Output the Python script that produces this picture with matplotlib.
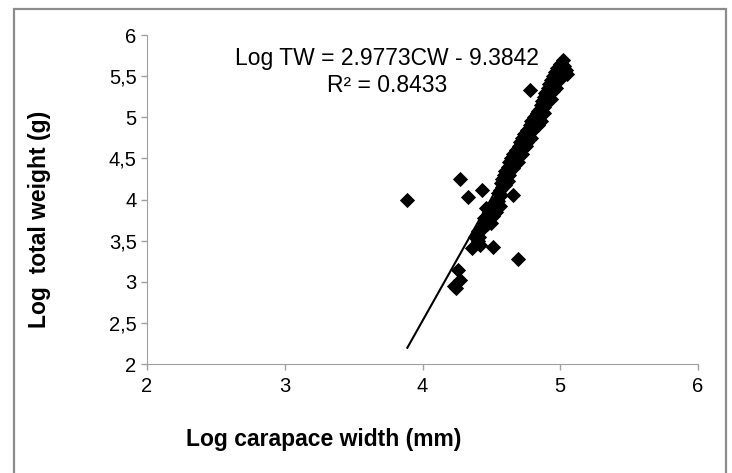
import matplotlib.pyplot as plt
from matplotlib.patches import Rectangle
from matplotlib.ticker import FuncFormatter

plt.rcParams['font.family'] = ['Liberation Sans', 'DejaVu Sans']

# log carapace width (x) and log total weight (y)
cw = [3.89, 4.27, 4.33, 4.43, 4.66, 4.51, 4.69, 4.36, 4.26, 4.24, 4.27, 4.23,
      4.38, 4.40, 4.42, 4.45, 4.48, 4.49, 4.50, 4.52, 4.54, 4.55, 4.56, 4.57,
      4.58, 4.59, 4.60, 4.61, 4.62, 4.63, 4.64, 4.65, 4.66, 4.67, 4.68, 4.69,
      4.70, 4.71, 4.72, 4.73, 4.74, 4.75, 4.76, 4.77, 4.78, 4.79, 4.80, 4.81,
      4.82, 4.83, 4.84, 4.85, 4.86, 4.87, 4.88, 4.89, 4.90, 4.91, 4.92, 4.93,
      4.94, 4.95, 4.96, 4.97, 4.98, 4.99, 5.00, 5.02, 5.03, 5.04, 4.78, 4.72,
      4.62, 4.58, 4.53, 4.47, 4.41, 4.90, 4.95, 4.99, 4.86, 4.82, 4.76,
      4.40, 4.44, 4.46, 4.51, 4.55, 4.57, 4.60, 4.63, 4.66, 4.69, 4.72, 4.75,
      4.79, 4.84, 4.88, 4.93, 4.97, 5.01, 5.05, 4.45, 4.50, 4.53,
      4.84, 4.92, 4.96, 5.00, 4.70, 4.74, 4.80, 4.88, 4.62, 4.56]
tw = [3.99, 4.25, 4.03, 4.11, 4.05, 3.42, 3.28, 3.41, 3.14, 2.92, 3.02, 2.95,
      3.55, 3.62, 3.45, 3.78, 3.85, 3.77, 3.90, 3.95, 4.00, 4.08, 4.12, 4.20,
      4.25, 4.30, 4.35, 4.28, 4.40, 4.45, 4.50, 4.48, 4.55, 4.52, 4.60, 4.58,
      4.65, 4.70, 4.75, 4.72, 4.80, 4.78, 4.85, 4.82, 4.90, 4.95, 4.92, 5.00,
      4.98, 5.05, 5.02, 5.10, 5.15, 5.20, 5.25, 5.30, 5.28, 5.35, 5.40, 5.45,
      5.38, 5.50, 5.55, 5.48, 5.60, 5.58, 5.65, 5.70, 5.62, 5.58, 5.33, 4.62,
      4.30, 4.15, 3.88, 3.70, 3.55, 5.18, 5.32, 5.45, 4.95, 4.88, 4.70,
      3.50, 3.65, 3.90, 3.80, 3.98, 4.05, 4.18, 4.30, 4.38, 4.45, 4.55, 4.65,
      4.75, 4.90, 5.05, 5.22, 5.35, 5.50, 5.52, 3.72, 3.72, 3.85,
      5.08, 5.28, 5.42, 5.52, 4.55, 4.68, 4.85, 5.12, 4.22, 3.92]

slope = 2.9773
intercept = -9.3842
r2 = 0.8433

x_ticks = [2, 3, 4, 5, 6]
y_ticks = [2, 2.5, 3, 3.5, 4, 4.5, 5, 5.5, 6]


def comma(v, pos):
    """
    Decimal comma like the original sheet
    """
    return f"{v:g}".replace('.', ',')


fig = plt.figure(figsize=(7.32, 4.73), dpi=100)
ax = fig.add_axes([147/732, 1 - 364/473, 551/732, 329/473])

ax.scatter(cw, tw, marker='D', s=60, color='black', zorder=3, linewidths=0)

# trend line over the data range
x0, x1 = min(cw), max(cw)
ax.plot([x0, x1], [slope * x0 + intercept, slope * x1 + intercept],
        color='black', lw=1.5, zorder=2)

ax.set_xlim(2, 6)
ax.set_ylim(2, 6)
ax.set_xticks(x_ticks)
ax.set_yticks(y_ticks)
ax.yaxis.set_major_formatter(FuncFormatter(comma))
ax.tick_params(colors='#a0a0a0', labelcolor='black', labelsize=14.5,
               length=4.5, width=1, direction='out')
ax.tick_params(axis='x', pad=5)
ax.tick_params(axis='y', pad=3)
for side in ['top', 'right']:
    ax.spines[side].set_visible(False)
for side in ['left', 'bottom']:
    ax.spines[side].set_color('#a0a0a0')

# trendline label, two centred lines
fig.text(387/732, 1 - 58/473, f"Log TW = {slope}CW - {abs(intercept)}",
         ha='center', va='center', fontsize=16.5)
fig.text(387/732, 1 - 85/473, f"R² = {r2}",
         ha='center', va='center', fontsize=16.5)

fig.text(40/732, 1 - 219/473, "Log  total weight (g)", rotation=90,
         ha='center', va='center', fontsize=16.5, fontweight='bold')
fig.text(324/732, 1 - 439/473, "Log carapace width (mm)",
         ha='center', va='center', fontsize=16.5, fontweight='bold')

# grey frame of the chart area
fig.patches.append(Rectangle((14/732, -0.05), 712/732, 1.05 - 9/473,
                             transform=fig.transFigure, fill=False,
                             edgecolor='#8c8c8c', lw=1.6))

fig.savefig("out.png", dpi=100)
